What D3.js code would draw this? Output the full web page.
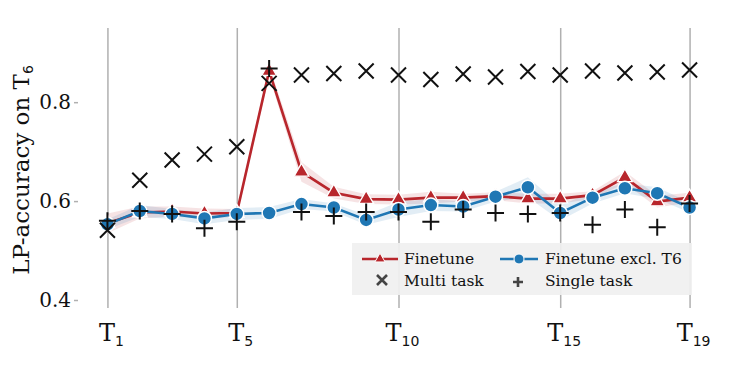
<!DOCTYPE html>
<html>
<head>
<meta charset="utf-8">
<script src="https://cdn.jsdelivr.net/npm/d3@7"></script>
<style>
body { margin: 0; background: #fff; }
svg { font-family: "DejaVu Serif", serif; }
</style>
</head>
<body>
<svg id="chart" width="747" height="374"></svg>
<script>
"use strict";
// tasks T1..T19
var tasks = [1,2,3,4,5,6,7,8,9,10,11,12,13,14,15,16,17,18,19];
var tickTasks = [1,5,10,15,19];
var yTicks = [0.4, 0.6, 0.8];

var finetune    = [0.555,0.577,0.579,0.575,0.576,0.863,0.659,0.617,0.604,0.603,0.607,0.607,0.610,0.605,0.605,0.612,0.648,0.599,0.607];
var finetuneErr = [0.020,0.012,0.010,0.010,0.008,0.010,0.020,0.012,0.010,0.010,0.012,0.008,0.008,0.010,0.010,0.008,0.012,0.012,0.010];
var exclT6      = [0.553,0.580,0.574,0.565,0.574,0.576,0.594,0.587,0.562,0.583,0.592,0.589,0.609,0.628,0.576,0.607,0.626,0.616,0.587];
var exclT6Err   = [0.010,0.012,0.010,0.012,0.012,0.012,0.010,0.008,0.010,0.015,0.012,0.010,0.010,0.020,0.015,0.012,0.010,0.012,0.010];
var multiTask   = [0.541,0.642,0.683,0.695,0.710,0.838,0.855,0.858,0.863,0.855,0.846,0.857,0.851,0.862,0.855,0.863,0.859,0.861,0.865];
var singleTask  = [0.560,0.580,0.574,0.545,0.558,0.868,0.578,0.570,0.578,0.578,0.558,0.583,0.576,0.574,0.576,0.552,0.583,0.547,0.595];

var red = "#b8262c";
var blue = "#1f77b4";
var gridColor = "#b0b0b0";

var svg = d3.select("#chart");
var x = d3.scaleLinear().domain([0.09, 19.91]).range([78, 719]);
var y = d3.scaleLinear().domain([0.4, 0.95]).range([300, 28]);

// grid + axes
var yAxis = d3.axisLeft(y).tickValues(yTicks).tickSize(641).tickFormat(d3.format(".1f"));
var gy = svg.append("g").attr("transform", "translate(719,0)").call(yAxis);
gy.select(".domain").remove();
gy.selectAll("line").attr("stroke", gridColor).attr("stroke-width", 1.5).attr("x1", -645);
gy.selectAll("text").attr("font-size", 20).attr("fill", "#111").attr("x", -648)
	.attr("font-family", "DejaVu Serif");

var xAxis = d3.axisBottom(x).tickValues(tickTasks).tickSize(272).tickFormat("");
var gx = svg.append("g").attr("transform", "translate(0,28)").call(xAxis);
gx.select(".domain").remove();
gx.selectAll("line").attr("stroke", gridColor).attr("stroke-width", 1.5).attr("y2", 280);

// x tick labels with subscripts
var xl = svg.append("g").selectAll("text")
	.data(tickTasks)
	.enter()
	.append("text")
	.attr("x", function(d) { return x(d) + 4; })
	.attr("y", 341)
	.attr("text-anchor", "middle")
	.attr("font-size", 24)
	.attr("fill", "#111");
xl.append("tspan").text("T");
xl.append("tspan").attr("font-size", 14).attr("font-family", "DejaVu Sans").attr("dy", 5)
	.text(function(d) { return d; });

// y label
var yl = svg.append("text")
	.attr("transform", "translate(29,170) rotate(-90)")
	.attr("text-anchor", "middle")
	.attr("font-size", 23)
	.attr("fill", "#111");
yl.append("tspan").text("LP-accuracy on T");
yl.append("tspan").attr("font-size", 14).attr("font-family", "DejaVu Sans").attr("dy", 4).text("6");

// bands
function band(vals, errs, color) {
	var area = d3.area()
		.x(function(d, i) { return x(tasks[i]); })
		.y0(function(d, i) { return y(vals[i] - errs[i]); })
		.y1(function(d, i) { return y(vals[i] + errs[i]); });
	svg.append("path").datum(vals).attr("d", area).attr("fill", color).attr("fill-opacity", 0.13);
}
band(finetune, finetuneErr, red);
band(exclT6, exclT6Err, blue);

var line = d3.line().x(function(d, i) { return x(tasks[i]); }).y(function(d) { return y(d); });

// finetune
svg.append("path").datum(finetune).attr("d", line).attr("fill", "none").attr("stroke", red).attr("stroke-width", 2.6);
svg.append("g").selectAll("path").data(finetune).enter().append("path")
	.attr("d", d3.symbol().type(d3.symbolTriangle).size(95))
	.attr("transform", function(d, i) { return "translate(" + x(tasks[i]) + "," + y(d) + ")"; })
	.attr("fill", red).attr("stroke", "#fff").attr("stroke-width", 1.3);

// finetune excl T6
svg.append("path").datum(exclT6).attr("d", line).attr("fill", "none").attr("stroke", blue).attr("stroke-width", 2.6);
svg.append("g").selectAll("circle").data(exclT6).enter().append("circle")
	.attr("cx", function(d, i) { return x(tasks[i]); })
	.attr("cy", function(d) { return y(d); })
	.attr("r", 7)
	.attr("fill", blue).attr("stroke", "#fff").attr("stroke-width", 1.5);

// multi task (x markers) and single task (+ markers)
function cross(g, cx, cy, s, color, w) {
	g.append("path").attr("d", "M" + (cx - s) + "," + (cy - s) + "L" + (cx + s) + "," + (cy + s) +
		"M" + (cx - s) + "," + (cy + s) + "L" + (cx + s) + "," + (cy - s))
		.attr("stroke", color).attr("stroke-width", w).attr("fill", "none");
}
function plus(g, cx, cy, s, color, w) {
	g.append("path").attr("d", "M" + (cx - s) + "," + cy + "L" + (cx + s) + "," + cy +
		"M" + cx + "," + (cy - s) + "L" + cx + "," + (cy + s))
		.attr("stroke", color).attr("stroke-width", w).attr("fill", "none");
}
var gm = svg.append("g");
multiTask.forEach(function(d, i) { cross(gm, x(tasks[i]), y(d), 7.5, "#111", 2); });
var gs = svg.append("g");
singleTask.forEach(function(d, i) { plus(gs, x(tasks[i]), y(d), 8.5, "#111", 2); });

// legend
var lg = svg.append("g");
lg.append("rect").attr("x", 352).attr("y", 243).attr("width", 340).attr("height", 52)
	.attr("fill", "#f0f0f0").attr("fill-opacity", 0.92);
lg.append("line").attr("x1", 362).attr("x2", 398).attr("y1", 259).attr("y2", 259).attr("stroke", red).attr("stroke-width", 2.6);
lg.append("path").attr("d", d3.symbol().type(d3.symbolTriangle).size(45))
	.attr("transform", "translate(380,259)").attr("fill", red).attr("stroke", "#fff").attr("stroke-width", 1);
lg.append("line").attr("x1", 500).attr("x2", 538).attr("y1", 259).attr("y2", 259).attr("stroke", blue).attr("stroke-width", 2.6);
lg.append("circle").attr("cx", 519).attr("cy", 259).attr("r", 5).attr("fill", blue).attr("stroke", "#fff").attr("stroke-width", 1);
cross(lg, 382, 280, 5, "#444", 2.6);
plus(lg, 518, 282, 5, "#444", 2.6);
var legendText = [["Finetune", 404, 264], ["Finetune excl. T6", 545, 264], ["Multi task", 404, 286], ["Single task", 545, 286]];
lg.selectAll("text").data(legendText).enter().append("text")
	.attr("x", function(d) { return d[1]; })
	.attr("y", function(d) { return d[2]; })
	.attr("font-size", 15.5)
	.attr("fill", "#111")
	.text(function(d) { return d[0]; });
</script>
</body>
</html>
